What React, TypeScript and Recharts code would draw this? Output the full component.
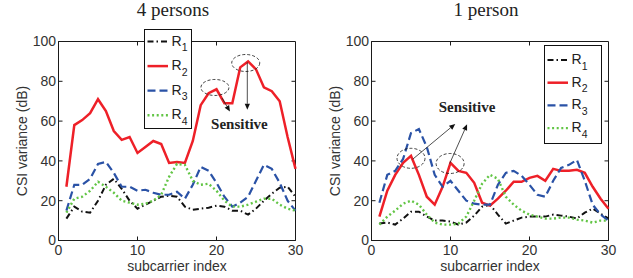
import { LineChart, Line, XAxis, YAxis, Legend, ReferenceDot, ReferenceLine, ReferenceArea } from "recharts";

const subcarriers = [1, 2, 3, 4, 5, 6, 7, 8, 9, 10, 11, 12, 13, 14, 15, 16, 17, 18, 19, 20, 21, 22, 23, 24, 25, 26, 27, 28, 29, 30];
const xTicks = [0, 10, 20, 30];
const yTicks = [0, 20, 40, 60, 80, 100];
const seriesNames = ["R1", "R2", "R3", "R4"];

// 4 persons
const fourR1 = [11, 17, 14.5, 14, 20, 28, 31, 26, 20, 16, 18, 20, 22, 22.5, 22, 17, 15.5, 16, 16.5, 17.5, 17, 15, 15, 13, 16, 20, 23.5, 26.5, 27, 22];
const fourR2 = [27, 58, 60.5, 64, 71, 65, 55, 50.6, 52, 44, 47, 50, 48.5, 39, 39.5, 39, 50, 68, 74, 76, 69, 69, 87, 90, 86, 77, 75, 70, 52, 36];
const fourR3 = [15, 28, 28, 31, 38.5, 39.5, 34, 27, 27, 25, 25.5, 24, 23, 23, 24.5, 21, 28, 37, 35, 29, 22, 17, 19, 22, 30, 38, 36, 29, 20, 15];
const fourR4 = [14, 21, 22, 25, 29.5, 27, 24, 20, 19, 18, 18.5, 20, 23, 32, 38.5, 38, 30, 28, 28.5, 25, 20, 17, 17, 18, 19.5, 21, 21, 18, 16, 15];

// 1 person
const oneR1 = [8.5, 9, 8, 11, 14.5, 14.5, 12, 10, 10, 9.5, 8, 9, 12.5, 17, 18, 13, 8.5, 10, 11.5, 12, 12, 12, 13, 12.5, 12, 11, 14, 16, 13.5, 11];
const oneR2 = [12, 25, 33, 39, 42.5, 33, 22, 18, 27, 39, 35, 34, 29, 19, 17.5, 21, 25, 29.5, 29.5, 31.5, 32.5, 30, 36, 35, 35, 35.5, 34, 27, 21, 16];
const oneR3 = [19, 33, 35, 41, 54, 56, 47, 33, 27, 30, 25, 20, 18.5, 18, 18, 28, 34, 35, 32.5, 28, 23, 22, 30, 36.5, 38, 40.5, 30, 18, 13, 10];
const oneR4 = [8, 12, 15, 18.5, 20, 18, 13, 9, 8, 8, 8.5, 12, 20, 28.5, 33, 31, 22, 18, 15, 13, 12, 11, 11, 11.5, 11.5, 10.5, 10, 9, 10, 10];

const lineStyles = [
  { color: "#111111", width: 2, dash: "6 3 1.5 3" },
  { color: "#ee2028", width: 2.5, dash: undefined },
  { color: "#2a52a6", width: 2.2, dash: "8 4" },
  { color: "#62c545", width: 2.4, dash: "2 2.6" },
];

const makeRows = (r1: number[], r2: number[], r3: number[], r4: number[]) =>
  subcarriers.map((s, i) => ({ s, R1: r1[i], R2: r2[i], R3: r3[i], R4: r4[i] }));

const fourRows = makeRows(fourR1, fourR2, fourR3, fourR4);
const oneRows = makeRows(oneR1, oneR2, oneR3, oneR4);

const axisFont = "Arial, 'Liberation Sans', sans-serif";
const frameColor = "#1a1a1a";

function LegendBox({ width, height, rowTop, rowGap }: { width: number; height: number; rowTop: number; rowGap: number }) {
  return (
    <svg width={width} height={height} style={{ display: "block" }}>
      <rect x={0.5} y={0.5} width={width - 1} height={height - 1} fill="#fff" stroke="#111" strokeWidth={1} />
      {seriesNames.map((name, i) => {
        const y = rowTop + i * rowGap;
        const st = lineStyles[i];
        return (
          <g key={name}>
            <line x1={3.5} x2={24} y1={y} y2={y} stroke={st.color} strokeWidth={st.width} strokeDasharray={st.dash} />
            <text x={27.5} y={y + 4} fontSize={14} fontFamily={axisFont} fill="#222">
              R<tspan fontSize={10.5} dy={5.5}>{i + 1}</tspan>
            </text>
          </g>
        );
      })}
    </svg>
  );
}

interface Arrow {
  from: [number, number];
  to: [number, number];
}

interface PanelProps {
  title: string;
  titleX: number;
  width: number;
  rows: typeof fourRows;
  legend: { left: number; top: number; width: number; height: number; rowTop: number; rowGap: number };
  ellipses: { x: number; y: number; rx: number; ry: number }[];
  arrows: Arrow[];
  label: { x: number; y: number };
}

const arrowShape = (props: any) => {
  const { x1, y1, x2, y2 } = props;
  const ang = Math.atan2(y2 - y1, x2 - x1);
  const len = 6;
  const half = 2.6;
  const bx = x2 - len * Math.cos(ang);
  const by = y2 - len * Math.sin(ang);
  const px = -Math.sin(ang) * half;
  const py = Math.cos(ang) * half;
  return (
    <g>
      <line x1={x1} y1={y1} x2={bx} y2={by} stroke="#222" strokeWidth={0.8} />
      <polygon points={`${x2},${y2} ${bx + px},${by + py} ${bx - px},${by - py}`} fill="#111" />
    </g>
  );
};

// inward tick at the top edge of a vertical reference line
const topTick = (props: any) => {
  const top = Math.min(props.y1, props.y2);
  return <line x1={props.x1} x2={props.x1} y1={top} y2={top + 4} stroke={frameColor} strokeWidth={1} />;
};

// inward tick at the right edge of a horizontal reference line
const rightTick = (props: any) => {
  const right = Math.max(props.x1, props.x2);
  return <line x1={right - 4} x2={right} y1={props.y1} y2={props.y1} stroke={frameColor} strokeWidth={1} />;
};

function Panel({ title, titleX, width, rows, legend, ellipses, arrows, label }: PanelProps) {
  const height = 278;
  return (
    <div style={{ position: "relative", width, height }}>
      <div
        style={{
          position: "absolute",
          left: titleX - 60,
          width: 120,
          top: 0,
          textAlign: "center",
          fontFamily: "'Liberation Serif', 'Times New Roman', serif",
          fontSize: 19,
          lineHeight: "19px",
          color: "#222",
        }}
      >
        {title}
      </div>
      <LineChart width={width} height={height} data={rows} margin={{ top: 41.5, right: width - 295.5, bottom: 0, left: 0 }}>
        <XAxis
          dataKey="s"
          type="number"
          domain={[0, 30]}
          ticks={xTicks}
          height={37.5}
          tickSize={-4}
          tickMargin={9}
          stroke={frameColor}
          tick={{ fill: "#333", fontSize: 14, fontFamily: axisFont }}
          label={{ value: "subcarrier index", position: "insideBottom", offset: 7, fill: "#333", fontSize: 14, fontFamily: axisFont }}
        />
        <YAxis
          type="number"
          domain={[0, 100]}
          ticks={yTicks}
          width={58.5}
          tickSize={-4}
          tickMargin={6.5}
          stroke={frameColor}
          tick={{ fill: "#333", fontSize: 14, fontFamily: axisFont }}
          label={{
            content: () => (
              <text
                x={22}
                y={141}
                transform="rotate(-90 22 141)"
                textAnchor="middle"
                dominantBaseline="central"
                fill="#333"
                fontSize={14}
                fontFamily={axisFont}
              >
                CSI variance (dB)
              </text>
            ),
          }}
        />
        <ReferenceArea x1={0} x2={30} y1={0} y2={100} fill="none" stroke={frameColor} strokeWidth={1} ifOverflow="visible" />
        {xTicks.slice(1, -1).map((t) => (
          <ReferenceLine key={`tx${t}`} x={t} shape={topTick} />
        ))}
        {yTicks.slice(1, -1).map((t) => (
          <ReferenceLine key={`ty${t}`} y={t} shape={rightTick} />
        ))}
        {seriesNames.map((name, i) => (
          <Line
            key={name}
            dataKey={name}
            type="linear"
            dot={false}
            stroke={lineStyles[i].color}
            strokeWidth={lineStyles[i].width}
            strokeDasharray={lineStyles[i].dash}
            isAnimationActive={false}
          />
        ))}
        {ellipses.map((e, i) => (
          <ReferenceDot
            key={`e${i}`}
            x={e.x}
            y={e.y}
            ifOverflow="visible"
            shape={(p: any) => (
              <ellipse cx={p.cx} cy={p.cy} rx={e.rx} ry={e.ry} fill="none" stroke="#111" strokeWidth={0.8} strokeDasharray="3 2" />
            )}
          />
        ))}
        {arrows.map((a, i) => (
          <ReferenceLine
            key={`a${i}`}
            segment={[
              { x: a.from[0], y: a.from[1] },
              { x: a.to[0], y: a.to[1] },
            ]}
            ifOverflow="visible"
            shape={arrowShape}
          />
        ))}
        <ReferenceDot
          x={label.x}
          y={label.y}
          ifOverflow="visible"
          shape={(p: any) => (
            <text
              x={p.cx}
              y={p.cy}
              textAnchor="middle"
              fontFamily="'Liberation Serif', 'Times New Roman', serif"
              fontWeight="bold"
              fontSize={15}
              fill="#222"
            >
              Sensitive
            </text>
          )}
        />
        <Legend
          layout="vertical"
          align="center"
          verticalAlign="middle"
          wrapperStyle={{ left: legend.left, top: legend.top, width: legend.width, height: legend.height }}
          content={() => (
            <LegendBox width={legend.width} height={legend.height} rowTop={legend.rowTop} rowGap={legend.rowGap} />
          )}
        />
      </LineChart>
    </div>
  );
}

export default function App() {
  return (
    <div style={{ position: "absolute", left: 0, top: 0, width: 633, height: 278, background: "#fff" }}>
      <div style={{ position: "absolute", left: 0, top: 0 }}>
        <Panel
          title="4 persons"
          titleX={173}
          width={316}
          rows={fourRows}
          legend={{ left: 144, top: 29, width: 48, height: 100, rowTop: 12.5, rowGap: 24.6 }}
          ellipses={[
            { x: 19.8, y: 76.9, rx: 14, ry: 8 },
            { x: 23.7, y: 89.2, rx: 14, ry: 8.5 },
          ]}
          arrows={[
            { from: [20.7, 71.6], to: [21.7, 64.8] },
            { from: [23.9, 89.5], to: [23.9, 65.7] },
          ]}
          label={{ x: 22.9, y: 56.1 }}
        />
      </div>
      <div style={{ position: "absolute", left: 313, top: 0 }}>
        <Panel
          title="1 person"
          titleX={173}
          width={320}
          rows={oneRows}
          legend={{ left: 231, top: 45, width: 58, height: 99, rowTop: 15, rowGap: 22.7 }}
          ellipses={[
            { x: 5.0, y: 41.3, rx: 14, ry: 10 },
            { x: 9.95, y: 38.7, rx: 14, ry: 10 },
          ]}
          arrows={[
            { from: [5.2, 40.8], to: [10.6, 58.6] },
            { from: [9.9, 38.7], to: [12.1, 58.4] },
          ]}
          label={{ x: 12.1, y: 64.5 }}
        />
      </div>
    </div>
  );
}
